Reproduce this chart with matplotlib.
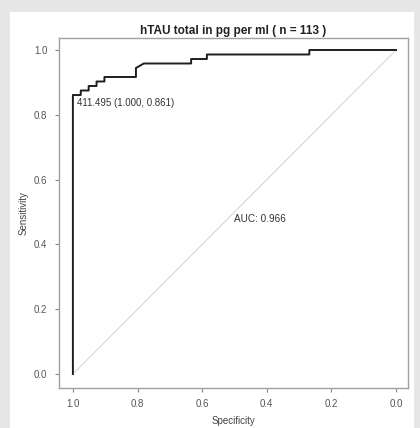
import matplotlib
matplotlib.use("Agg")
import matplotlib.pyplot as plt
from matplotlib.patches import Rectangle

plt.rcParams['font.family'] = ['Liberation Sans', 'DejaVu Sans']

# ROC path: 72 cases, 41 controls
n_cases = 72
n_controls = 41
spec_counts = [41, 41, 40, 40, 39, 39, 38, 38, 37, 37, 33, 33, 32, 26, 26, 24, 24, 11, 11, 0]
sens_counts = [0, 62, 62, 63, 63, 64, 64, 65, 65, 66, 66, 68, 69, 69, 70, 70, 71, 71, 72, 72]
specificity = [c / n_controls for c in spec_counts]
sensitivity = [c / n_cases for c in sens_counts]

auc_value = 0.966
best_threshold = 411.495
best_spec = 1.000
best_sens = 0.861
title = "hTAU total in pg per ml ( n = 113 )"
ticks = [0.0, 0.2, 0.4, 0.6, 0.8, 1.0]

fig = plt.figure(figsize=(4.2, 4.28), dpi=100, facecolor='#e7e7e7')
panel = Rectangle((10 / 420, 0), 404 / 420, 416 / 428,
                  transform=fig.transFigure, facecolor='white',
                  edgecolor='none', zorder=-1)
fig.add_artist(panel)

ax = fig.add_axes([59 / 420, 1 - 388 / 428, 349 / 420, 350 / 428])
ax.set_facecolor('white')

ax.plot([1, 0], [0, 1], color='#dcdcdc', lw=0.9, zorder=1)
ax.plot(specificity, sensitivity, color='#1e1e1e', lw=1.4, zorder=2)

ax.text(best_spec - 0.013, best_sens - 0.025,
        f"{best_threshold:.3f} ({best_spec:.3f}, {best_sens:.3f})",
        fontsize=7, color='#333333', ha='left', va='center')
ax.text(0.5, 0.48, f"AUC: {auc_value:.3f}", fontsize=7.2, color='#333333',
        ha='left', va='center')

ax.set_xlim(1.043, -0.037)
ax.set_ylim(-0.043, 1.037)
ax.set_xticks(ticks)
ax.set_yticks(ticks)
ax.set_xticklabels([f"{t:.1f}" for t in ticks])
ax.set_yticklabels([f"{t:.1f}" for t in ticks])
ax.tick_params(axis='both', labelsize=7, colors='#888888', labelcolor='#555555',
               length=3, width=0.8, direction='out')
ax.tick_params(axis='x', pad=5)
ax.tick_params(axis='y', pad=5.5)
for s in ax.spines.values():
    s.set_color('#a0a0a0')
    s.set_linewidth(1.0)

ax.set_title(title, fontsize=8.5, fontweight='bold', color='#222222', pad=3)
ax.set_xlabel("Specificity", fontsize=7, color='#444444', labelpad=5)
ax.set_ylabel("Sensitivity", fontsize=7, color='#444444', labelpad=3.6)

fig.savefig("out.png", dpi=100, facecolor=fig.get_facecolor())
